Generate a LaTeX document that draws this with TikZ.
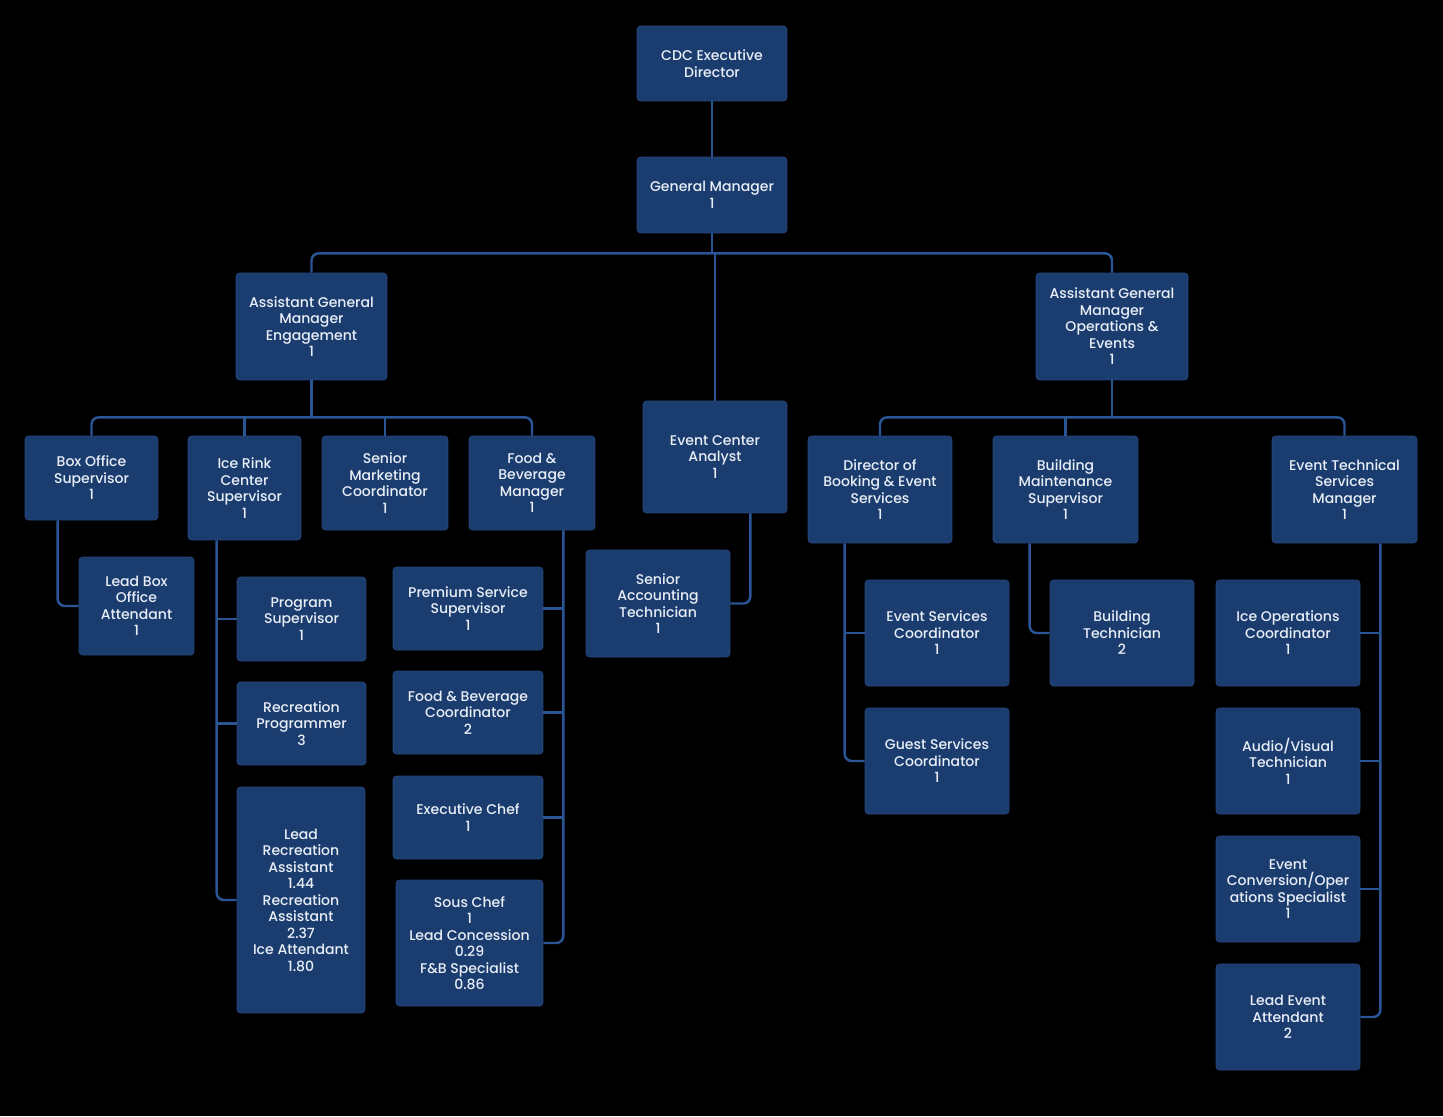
\documentclass[tikz,border=0pt]{standalone}
\usepackage{xcolor}
\usepackage{fontspec}
\setmainfont{Poppins}[UprightFont={* Medium}]
\usetikzlibrary{calc}
\definecolor{boxBlue}{RGB}{27,60,110}
\definecolor{boxEdge}{RGB}{36,72,126}
\definecolor{lineBlue}{RGB}{42,86,150}
\definecolor{textWhite}{RGB}{232,238,246}

\begin{document}
\begin{tikzpicture}[x=0.02cm, y=-0.02cm,
  every node/.style={font=\fontsize{8}{9.4}\selectfont, text=textWhite},
  orgbox/.style={draw=boxEdge, line width=0.4pt, fill=boxBlue, rounded corners=2pt, align=center, inner sep=1pt},
  link/.style={draw=lineBlue, line width=1.4pt, rounded corners=4pt}]
  \fill[black] (0,0) rectangle (1443,1116);
  \useasboundingbox (0,0) rectangle (1443,1116);

  % top levels
  \node[orgbox, minimum width=3cm, minimum height=1.5cm] (cdcDirector) at (712,63.5) {CDC Executive\\Director};
  \node[orgbox, minimum width=3cm, minimum height=1.52cm] (generalManager) at (712,195) {General Manager\\1};
  \node[orgbox, minimum width=3.02cm, minimum height=2.14cm] (agmEngagement) at (311.5,326.5) {Assistant General\\Manager\\Engagement\\1};
  \node[orgbox, minimum width=3.04cm, minimum height=2.14cm] (agmOperations) at (1112,326.5) {Assistant General\\Manager\\Operations \&\\Events\\1};
  \node[orgbox, minimum width=2.88cm, minimum height=2.24cm] (eventAnalyst) at (715,457) {Event Center\\Analyst\\1};

  % engagement side
  \node[orgbox, minimum width=2.66cm, minimum height=1.68cm] (boxOfficeSup) at (91.5,478) {Box Office\\Supervisor\\1};
  \node[orgbox, minimum width=2.26cm, minimum height=2.08cm] (iceRinkSup) at (244.5,488) {Ice Rink\\Center\\Supervisor\\1};
  \node[orgbox, minimum width=2.52cm, minimum height=1.88cm] (seniorMarketing) at (385,483) {Senior\\Marketing\\Coordinator\\1};
  \node[orgbox, minimum width=2.52cm, minimum height=1.88cm] (fbManager) at (532,483) {Food \&\\Beverage\\Manager\\1};
  \node[orgbox, minimum width=2.3cm, minimum height=1.96cm] (leadBoxOffice) at (136.5,606) {Lead Box\\Office\\Attendant\\1};
  \node[orgbox, minimum width=2.58cm, minimum height=1.68cm] (programSup) at (301.5,619) {Program\\Supervisor\\1};
  \node[orgbox, minimum width=2.58cm, minimum height=1.66cm] (recProgrammer) at (301.5,723.5) {Recreation\\Programmer\\3};
  \node[orgbox, minimum width=2.56cm, minimum height=4.52cm] (recAssistants) at (301,900) {Lead\\Recreation\\Assistant\\1.44\\Recreation\\Assistant\\2.37\\Ice Attendant\\1.80};
  \node[orgbox, minimum width=3cm, minimum height=1.66cm] (premiumService) at (468,608.5) {Premium Service\\Supervisor\\1};
  \node[orgbox, minimum width=3cm, minimum height=1.66cm] (fbCoordinator) at (468,712.5) {Food \& Beverage\\Coordinator\\2};
  \node[orgbox, minimum width=3cm, minimum height=1.66cm] (execChef) at (468,817.5) {Executive Chef\\1};
  \node[orgbox, minimum width=2.94cm, minimum height=2.52cm] (sousChef) at (469.5,943) {Sous Chef\\1\\Lead Concession\\0.29\\F\&B Specialist\\0.86};
  \node[orgbox, minimum width=2.88cm, minimum height=2.14cm] (accountingTech) at (658,603.5) {Senior\\Accounting\\Technician\\1};

  % operations side
  \node[orgbox, minimum width=2.88cm, minimum height=2.14cm] (bookingDirector) at (880,489.5) {Director of\\Booking \& Event\\Services\\1};
  \node[orgbox, minimum width=2.9cm, minimum height=2.14cm] (maintenanceSup) at (1065.5,489.5) {Building\\Maintenance\\Supervisor\\1};
  \node[orgbox, minimum width=2.9cm, minimum height=2.14cm] (techServicesMgr) at (1344.5,489.5) {Event Technical\\Services\\Manager\\1};
  \node[orgbox, minimum width=2.88cm, minimum height=2.12cm] (eventServicesCoord) at (937,633) {Event Services\\Coordinator\\1};
  \node[orgbox, minimum width=2.88cm, minimum height=2.12cm] (guestServicesCoord) at (937,761) {Guest Services\\Coordinator\\1};
  \node[orgbox, minimum width=2.88cm, minimum height=2.12cm] (buildingTech) at (1122,633) {Building\\Technician\\2};
  \node[orgbox, minimum width=2.88cm, minimum height=2.12cm] (iceOpsCoord) at (1288,633) {Ice Operations\\Coordinator\\1};
  \node[orgbox, minimum width=2.88cm, minimum height=2.12cm] (avTech) at (1288,761) {Audio/Visual\\Technician\\1};
  \node[orgbox, minimum width=2.88cm, minimum height=2.12cm] (conversionSpecialist) at (1288,889) {Event\\Conversion/Oper\\ations Specialist\\1};
  \node[orgbox, minimum width=2.88cm, minimum height=2.12cm] (leadEventAttendant) at (1288,1017) {Lead Event\\Attendant\\2};

  % buses
  \coordinate (gmBus) at ($(generalManager.south)+(0,20)$);
  \coordinate (engBus) at ($(agmEngagement.south)+(0,37)$);
  \coordinate (opsBus) at ($(agmOperations.south)+(0,37)$);
  \draw[link] (cdcDirector) -- (generalManager);
  \draw[link] (generalManager) -- (gmBus);
  \draw[link] (agmEngagement.north) |- (gmBus) -| (agmOperations.north);
  \draw[link] (gmBus -| eventAnalyst.north) -- (eventAnalyst.north);
  \draw[link] (agmEngagement) -- (engBus);
  \draw[link] (boxOfficeSup.north) |- (engBus) -| (fbManager.north);
  \draw[link] (engBus -| iceRinkSup.north) -- (iceRinkSup.north);
  \draw[link] (engBus -| seniorMarketing.north) -- (seniorMarketing.north);
  \draw[link] (agmOperations) -- (opsBus);
  \draw[link] (bookingDirector.north) |- (opsBus) -| (techServicesMgr.north);
  \draw[link] (opsBus -| maintenanceSup.north) -- (maintenanceSup.north);

  % trunks
  \coordinate (iceTrunk) at ($(iceRinkSup.south west)+(29,0)$);
  \coordinate (fbTrunk) at ($(fbManager.south east)+(-32,0)$);
  \coordinate (bookingTrunk) at ($(bookingDirector.south west)+(37,0)$);
  \coordinate (techTrunk) at ($(techServicesMgr.south east)+(-37,0)$);
  \draw[link] ($(boxOfficeSup.south west)+(33,0)$) |- (leadBoxOffice.west);
  \draw[link] (iceTrunk) |- (recAssistants.west);
  \foreach \n in {programSup, recProgrammer}
    \draw[link] (iceTrunk |- \n.west) -- (\n.west);
  \draw[link] (fbTrunk) |- (sousChef.east);
  \foreach \n in {premiumService, fbCoordinator, execChef}
    \draw[link] (fbTrunk |- \n.east) -- (\n.east);
  \draw[link] ($(eventAnalyst.south east)+(-37,0)$) |- (accountingTech.east);
  \draw[link] (bookingTrunk) |- (guestServicesCoord.west);
  \draw[link] (bookingTrunk |- eventServicesCoord.west) -- (eventServicesCoord.west);
  \draw[link] ($(maintenanceSup.south west)+(37,0)$) |- (buildingTech.west);
  \draw[link] (techTrunk) |- (leadEventAttendant.east);
  \foreach \n in {iceOpsCoord, avTech, conversionSpecialist}
    \draw[link] (techTrunk |- \n.east) -- (\n.east);
\end{tikzpicture}
\end{document}
